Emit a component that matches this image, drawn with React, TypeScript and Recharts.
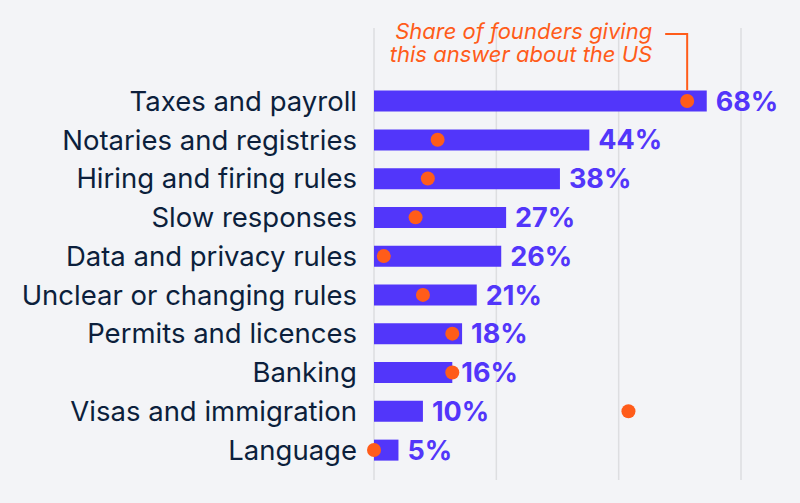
import React from "react";
import { ComposedChart, Bar, Line, XAxis, YAxis, CartesianGrid, LabelList } from "recharts";

const categories = [
  "Taxes and payroll",
  "Notaries and registries",
  "Hiring and firing rules",
  "Slow responses",
  "Data and privacy rules",
  "Unclear or changing rules",
  "Permits and licences",
  "Banking",
  "Visas and immigration",
  "Language",
];
const founderShare = [68, 44, 38, 27, 26, 21, 18, 16, 10, 5];
const usShare = [64, 13, 11, 8.5, 2, 10, 16, 16, 52, 0];
const xTicks = [0, 25, 50, 75];
const annotationLines = ["Share of founders giving", "this answer about the US"];

const data = categories.map((name, i) => ({ name, share: founderShare[i], us: usShare[i] }));

const BAR = "#5236fa";
const DOT = "#ff5c1a";
const TEXT = "#0c1f3c";
const BG = "#f3f4f7";
const FONT = "Inter, 'Noto Sans', sans-serif";

const renderDot = (props: any) => {
  const { cx, cy, index } = props;
  if (cx == null || cy == null) return <g key={index} />;
  return (
    <g key={`dot-${index}`}>
      {index === 0 && (
        <g>
          <polyline
            points={`${cx - 22},${cy - 67} ${cx},${cy - 67} ${cx},${cy - 11}`}
            fill="none"
            stroke={DOT}
            strokeWidth={2}
          />
          {annotationLines.map((t, k) => (
            <text
              key={k}
              x={cx - 35}
              y={cy - 61.5 + k * 22.3}
              textAnchor="end"
              fill={DOT}
              fontSize={22}
              fontStyle="italic"
              fontFamily={FONT}
            >
              {t}
            </text>
          ))}
        </g>
      )}
      <circle cx={cx} cy={cy} r={7} fill={DOT} />
    </g>
  );
};

export default function App() {
  return (
    <div style={{ position: "fixed", left: 0, top: 0, width: 800, height: 503, background: BG }}>
      <ComposedChart
        width={800}
        height={503}
        data={data}
        layout="vertical"
        margin={{ top: 28, right: 59, bottom: 23, left: 0 }}
      >
        <CartesianGrid horizontal={false} vertical stroke="#dddee1" strokeWidth={1.5} />
        <XAxis type="number" domain={[0, 75]} ticks={xTicks} hide />
        <YAxis
          type="category"
          dataKey="name"
          width={374}
          axisLine={false}
          tickLine={false}
          tickSize={0}
          tickMargin={17}
          interval={0}
          padding={{ top: 53.6, bottom: 10.6 }}
          tick={{ fill: TEXT, fontSize: 27.5, fontFamily: FONT }}
        />
        <Bar dataKey="share" fill={BAR} barSize={21} isAnimationActive={false}>
          <LabelList
            dataKey="share"
            position="right"
            offset={9}
            formatter={(v: any) => `${v}%`}
            fill={BAR}
            fontSize={27}
            fontWeight={700}
            fontFamily={FONT}
          />
        </Bar>
        <Line
          dataKey="us"
          stroke="none"
          dot={renderDot}
          activeDot={false}
          isAnimationActive={false}
        />
      </ComposedChart>
    </div>
  );
}
